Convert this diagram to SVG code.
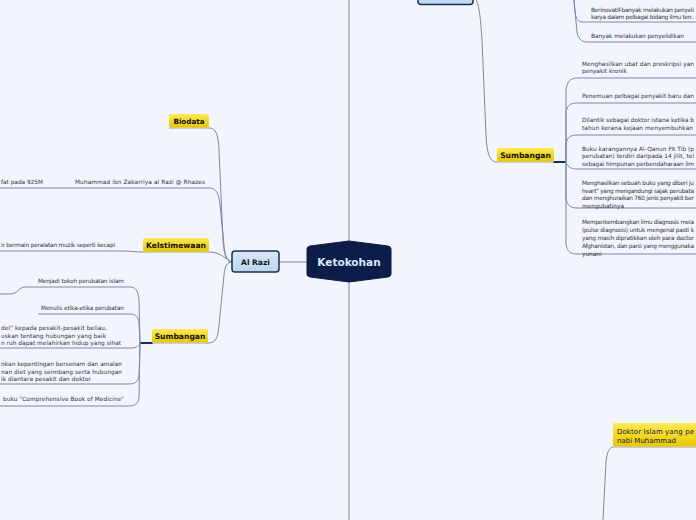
<svg xmlns="http://www.w3.org/2000/svg" width="696" height="520" viewBox="0 0 696 520">
<defs>
<linearGradient id="yel" x1="0" y1="0" x2="0" y2="1">
<stop offset="0" stop-color="#fdea55"/>
<stop offset="1" stop-color="#e8c700"/>
</linearGradient>
<linearGradient id="blu" x1="0" y1="0" x2="0" y2="1">
<stop offset="0" stop-color="#d6e8f7"/>
<stop offset="1" stop-color="#b9d6ee"/>
</linearGradient>
<style>
.c{fill:none;stroke:#7b87a7;stroke-width:1}
.t{fill:none;stroke:#1b2b57;stroke-width:2}
.s{font-family:"DejaVu Sans","Liberation Sans",sans-serif;font-size:5.8px;fill:#333}
.b{font-family:"DejaVu Sans","Liberation Sans",sans-serif;font-weight:bold;fill:#111}
.y{fill:url(#yel);stroke:none}
.sh{fill:#c9cbd3}
</style>
</defs>
<rect width="696" height="520" fill="#f2f5fd"/>
<g id="connectors">
<line class="c" x1="349" y1="0" x2="349" y2="242"/>
<line class="c" x1="349" y1="281" x2="349" y2="520"/>
<line class="c" x1="279" y1="262" x2="308" y2="262"/>
<path class="c" d="M169,128 L209,128 C216,128 218,134 219,150 L223,240 C224,255 226,261 232,262"/>
<path class="c" d="M0,188 L210,188 C216,188 219,194 220,205 L224,245 C225,256 227,261 232,262"/>
<path class="c" d="M0,251 L120,251 C132,251 134,252 143,252 L209,252 C220,252 224,258 232,262"/>
<path class="c" d="M152,343 L208,343 C216,343 218,338 219,325 L224,275 C225,266 227,262 232,262"/>
<line class="t" x1="140" y1="343" x2="153" y2="343"/>
<path class="c" d="M140,343 L139,300 C138,290 135,287 130,287 L25,287 C19,287 18,294 10,294 L0,294"/>
<path class="c" d="M140,343 L139,322 C138,316 135,314 130,314 L38,314"/>
<path class="c" d="M140,343 C139,347 135,348 130,348 L0,348"/>
<path class="c" d="M140,343 L139,376 C138,382 135,384 128,384 L0,384"/>
<path class="c" d="M140,343 L139,398 C138,404 135,406 128,406 L0,406"/>
<path class="c" d="M473,-2 C478,-2 480,10 482,40 L486,135 C487,152 489,162 497,162 L553,162"/>
<line class="t" x1="553" y1="162" x2="566" y2="162"/>
<path class="c" d="M566,162 L566,90 C567,82 570,78 577,78 L696,78"/>
<path class="c" d="M566,162 L566,112 C567,106 570,103 577,103 L696,103"/>
<path class="c" d="M566,162 L566,144 C567,138 570,135 577,135 L696,135"/>
<path class="c" d="M566,162 C567,166 570,169 577,169 L696,169"/>
<path class="c" d="M566,162 L566,198 C567,205 570,208 577,208 L696,208"/>
<path class="c" d="M566,162 L566,244 C567,251 570,254 577,254 L696,254"/>
<path class="c" d="M574,0 L575,12 C576,19 578,22 583,22 L696,22"/>
<path class="c" d="M574,0 L577,32 C578,38 581,42 587,42 L696,42"/>
<path class="c" d="M613,447 C609,448 607,452 606,462 L603,520"/>
</g>
<g id="top-node">
<rect x="418" y="-10" width="55" height="14.5" rx="3" fill="url(#blu)" stroke="#1f2d52" stroke-width="1.5"/>
</g>
<g id="ketokohan">
<path d="M310,246 L349,241 L388,246 Q391,246.5 391,249 L391,274 Q391,276.5 388,277 L349,282 L310,277 Q307,276.5 307,274 L307,249 Q307,246.5 310,246 Z" fill="#0b1d48" stroke="#0b1d48" stroke-width="1"/>
<text class="b" x="349" y="265.5" font-size="10.5" text-anchor="middle" style="fill:#dce8f8">Ketokohan</text>
</g>
<g id="al-razi">
<rect x="232" y="251" width="47" height="21" rx="3" fill="url(#blu)" stroke="#1f2d52" stroke-width="1.5"/>
<text class="b" x="255.5" y="264.5" font-size="7.5" text-anchor="middle">Al Razi</text>
</g>
<g id="biodata">
<rect class="sh" x="169" y="115" width="40" height="14" rx="2"/>
<rect class="y" x="169" y="114" width="40" height="13.5" rx="2"/>
<text class="b" x="189" y="124" font-size="7.2" text-anchor="middle">Biodata</text>
</g>
<g id="muhammad">
<text class="s" x="75" y="184" textLength="130">Muhammad ibn Zakarriya al Razi @ Rhazes</text>
</g>
<g id="wafat">
<text class="s" x="1" y="184" textLength="42">fat pada 925M</text>
</g>
<g id="keistimewaan">
<rect class="sh" x="143" y="239" width="66" height="14" rx="2"/>
<rect class="y" x="143" y="238" width="66" height="13.5" rx="2"/>
<text class="b" x="176" y="248.3" font-size="7.6" text-anchor="middle">Kelstimewaan</text>
</g>
<g id="muzik">
<text class="s" x="1" y="247" textLength="114">ir bermain peralatan muzik seperti kecapi</text>
</g>
<g id="sumbangan-left">
<rect class="sh" x="152" y="330" width="56" height="14" rx="2"/>
<rect class="y" x="152" y="329" width="56" height="13.5" rx="2"/>
<text class="b" x="180" y="339.3" font-size="7.6" text-anchor="middle">Sumbangan</text>
</g>
<g id="l1"><text class="s" x="38" y="283" textLength="86">Menjadi tokoh perubatan islam</text></g>
<g id="l2"><text class="s" x="41" y="310" textLength="83">Menulis etika-etika perubatan</text></g>
<g id="l3">
<text class="s" x="1" y="330" textLength="106">del" kepada pesakit-pesakit beliau,</text>
<text class="s" x="1" y="337.5" textLength="105">uskan tentang hubungan yang baik</text>
<text class="s" x="1" y="345" textLength="120">n ruh dapat melahirkan hidup yang sihat</text>
</g>
<g id="l4">
<text class="s" x="1" y="366" textLength="121">nkan kepentingan bersenam dan amalan</text>
<text class="s" x="1" y="373.5" textLength="121">nan diet yang seimbang serta hubungan</text>
<text class="s" x="1" y="380.5" textLength="90">ik diantara pesakit dan doktor</text>
</g>
<g id="l5"><text class="s" x="3" y="401" textLength="121">buku "Comprehensive Book of Medicine"</text></g>
<g id="sumbangan-right">
<rect class="sh" x="497" y="149" width="57" height="14" rx="2"/>
<rect class="y" x="497" y="148" width="57" height="13.5" rx="2"/>
<text class="b" x="525.5" y="158.3" font-size="7.6" text-anchor="middle">Sumbangan</text>
</g>
<g id="r1">
<text class="s" x="582" y="66" textLength="112">Menghasilkan ubat dan preskripsi yan</text>
<text class="s" x="582" y="73">penyakit kronik</text>
</g>
<g id="r2"><text class="s" x="582" y="98" textLength="112">Penemuan pelbagai penyakit baru dan</text></g>
<g id="r3">
<text class="s" x="582" y="122" textLength="112">Dilantik sebagai doktor istana ketika b</text>
<text class="s" x="582" y="129.5" textLength="111">tahun kerana kejaan menyembuhkan</text>
</g>
<g id="r4">
<text class="s" x="582" y="150.5" textLength="112">Buku karangannya Al-Qanun Fit Tib (p</text>
<text class="s" x="582" y="158" textLength="112">perubatan) terdiri daripada 14 jilit, tel</text>
<text class="s" x="582" y="165.5" textLength="112">sebagai himpunan perbendaharaan ilm</text>
</g>
<g id="r5">
<text class="s" x="582" y="185" textLength="112">Menghasilkan sebuah buku yang diberi ju</text>
<text class="s" x="582" y="192.5" textLength="112">heart" yang mengandungi sajak perubata</text>
<text class="s" x="582" y="200" textLength="112">dan menghuraikan 760 jenis penyakit ber</text>
<text class="s" x="582" y="207.5">mengubatinya</text>
</g>
<g id="r6">
<text class="s" x="582" y="224" textLength="112">Memperkembangkan ilmu diagnosis mela</text>
<text class="s" x="582" y="232" textLength="112">(pulse diagnosis) untuk mengenal pasti k</text>
<text class="s" x="582" y="240" textLength="112">yang masih dipratikkan oleh para doctor</text>
<text class="s" x="582" y="248" textLength="112">Afghanistan, dan parsi yang menggunaka</text>
<text class="s" x="582" y="255.5">yunani</text>
</g>
<g id="t1">
<text class="s" x="591" y="12" textLength="103">Berinovatif-banyak melakukan penyeli</text>
<text class="s" x="591" y="18.5" textLength="102">karya dalam pelbagai bidang ilmu ten.</text>
</g>
<g id="t2"><text class="s" x="591" y="38" textLength="93">Banyak melakukan penyelidikan</text></g>
<g id="doktor">
<rect class="sh" x="613" y="424" width="90" height="24" rx="2"/>
<rect class="y" x="613" y="423" width="90" height="23.5" rx="2"/>
<text x="617" y="434" font-family="DejaVu Sans, sans-serif" font-size="7" fill="#222" textLength="77">Doktor Islam yang pe</text>
<text x="617" y="443" font-family="DejaVu Sans, sans-serif" font-size="7" fill="#222">nabi Muhammad</text>
</g>
</svg>
